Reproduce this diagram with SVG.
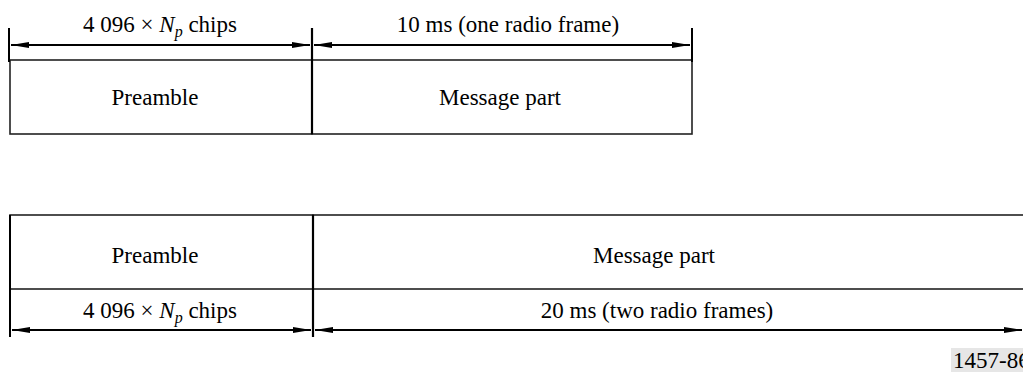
<svg xmlns="http://www.w3.org/2000/svg" width="1023" height="372" viewBox="0 0 1023 372">
<style>
  text { font-family: "Liberation Serif", "Times New Roman", serif; font-size: 23px; fill: #000; }
  .c { text-anchor: middle; }
  .box { fill: none; stroke: #222; stroke-width: 1.6; }
  .div { stroke: #000; stroke-width: 2.2; }
  .tick { stroke: #000; stroke-width: 2; }
  .dim { stroke: #000; stroke-width: 1.8; fill: none; }
</style>
<defs>
  <marker id="ah" viewBox="0 0 18 6" refX="18" refY="3" markerWidth="18" markerHeight="6" markerUnits="userSpaceOnUse" orient="auto-start-reverse">
    <path d="M0,0 L18,3 L0,6 Z" fill="#000"/>
  </marker>
</defs>
<rect width="1023" height="372" fill="#fff"/>

<g id="top-preamble">
  <rect class="box" x="10" y="60" width="302" height="74"/>
  <text class="c" x="155" y="105">Preamble</text>
</g>
<g id="top-message">
  <rect class="box" x="312" y="60" width="380" height="74"/>
  <text class="c" x="500" y="105">Message part</text>
</g>
<g id="bottom-preamble">
  <rect class="box" x="10" y="215" width="303" height="74"/>
  <text class="c" x="155" y="263">Preamble</text>
</g>
<g id="bottom-message">
  <rect class="box" x="313" y="215" width="720" height="74"/>
  <text class="c" x="654" y="263">Message part</text>
</g>

<g id="connectors">
  <!-- top ticks -->
  <line class="tick" x1="9" y1="28" x2="9" y2="62"/>
  <line class="div" x1="312" y1="28" x2="312" y2="134"/>
  <line class="tick" x1="692" y1="28" x2="692" y2="62"/>
  <line class="dim" x1="11" y1="45" x2="310" y2="45" marker-start="url(#ah)" marker-end="url(#ah)"/>
  <line class="dim" x1="314" y1="45" x2="690" y2="45" marker-start="url(#ah)" marker-end="url(#ah)"/>
  <!-- bottom ticks -->
  <line class="tick" x1="10" y1="215" x2="10" y2="337"/>
  <line class="div" x1="313" y1="215" x2="313" y2="337"/>
  <line class="dim" x1="12" y1="330" x2="311" y2="330" marker-start="url(#ah)" marker-end="url(#ah)"/>
  <line class="dim" x1="315" y1="330" x2="1022" y2="330" marker-start="url(#ah)" marker-end="url(#ah)"/>
</g>

<g id="labels">
  <text class="c" x="160" y="32">4 096 × <tspan font-style="italic">N</tspan><tspan font-style="italic" font-size="16" dy="5">p</tspan><tspan dy="-5"> chips</tspan></text>
  <text class="c" x="508" y="32">10 ms (one radio frame)</text>
  <text class="c" x="160" y="318">4 096 × <tspan font-style="italic">N</tspan><tspan font-style="italic" font-size="16" dy="5">p</tspan><tspan dy="-5"> chips</tspan></text>
  <text class="c" x="657" y="318">20 ms (two radio frames)</text>
</g>

<g id="figure-id">
  <rect x="951" y="348" width="72" height="24" fill="#e6e6e6"/>
  <text x="953" y="368">1457-86</text>
</g>
</svg>
